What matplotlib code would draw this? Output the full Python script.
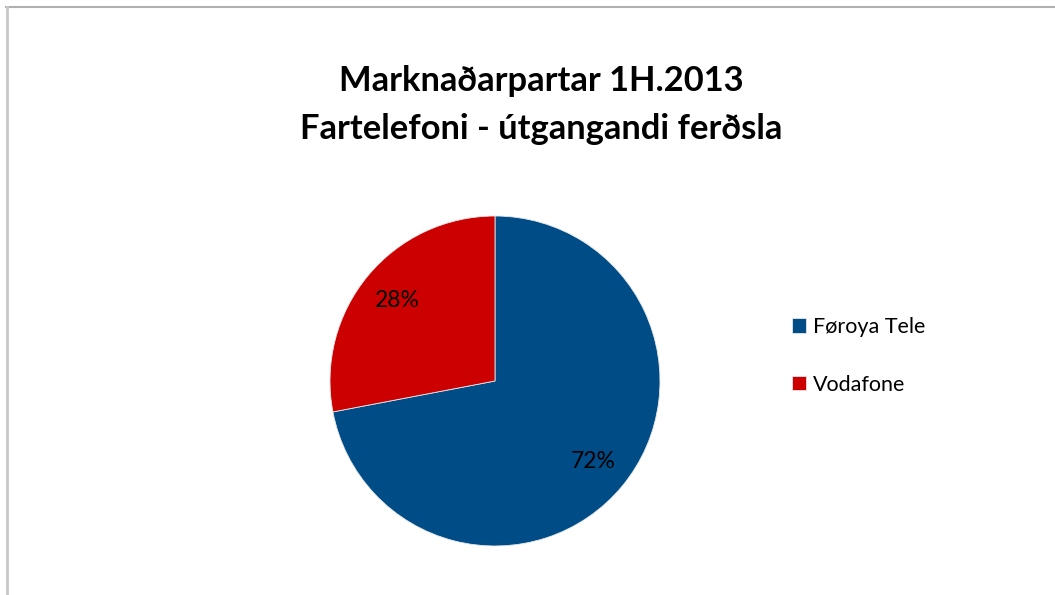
import matplotlib
matplotlib.use("Agg")
import matplotlib.pyplot as plt
from matplotlib.lines import Line2D

labels = ["Føroya Tele", "Vodafone"]
values = [72, 28]
colors = ["#004C86", "#CC0000"]
title = "Marknaðarpartar 1H.2013\nFartelefoni - útgangandi ferðsla"

plt.rcParams['font.family'] = ['Lato', 'DejaVu Sans']

W, H = 1055, 595
fig = plt.figure(figsize=(W/100, H/100), dpi=100)
fig.patch.set_facecolor("white")

# border lines (top and left)
fig.add_artist(Line2D([6/W, 1], [1-7/H, 1-7/H], color="#B0B0B0", lw=1.5, transform=fig.transFigure))
fig.add_artist(Line2D([6.5/W, 6.5/W], [0, 1-7/H], color="#C8C8C8", lw=2, transform=fig.transFigure))

ax = fig.add_axes([330/W, 49/H, 330/W, 330/H])
wedges, texts, autotexts = ax.pie(values, colors=colors, startangle=90, counterclock=False,
                                  autopct='%1.0f%%', pctdistance=0.77,
                                  wedgeprops=dict(edgecolor="#E8E8E8", linewidth=0.6),
                                  textprops=dict(fontsize=16.5, color="black"))
ax.set_xlim(-1, 1)
ax.set_ylim(-1, 1)
ax.set_aspect('equal')

fig.text(541/W, 1-105/H, title, ha='center', va='center', fontsize=24.8, fontweight='bold',
         linespacing=1.6)

fig.legend(wedges, labels, loc='center left', bbox_to_anchor=(773/W, 1-356/H),
           frameon=False, fontsize=15.5, handlelength=0.65, handleheight=0.65,
           handletextpad=0.3, labelspacing=1.75)

fig.savefig("out.png", dpi=100)
